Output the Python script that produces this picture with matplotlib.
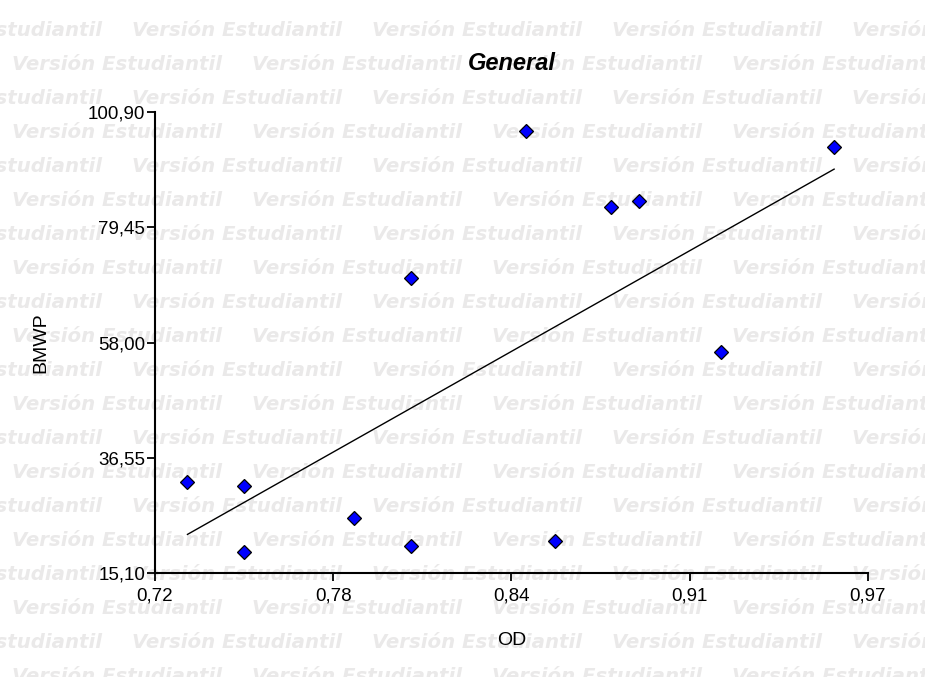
import numpy as np
import matplotlib
matplotlib.use("Agg")
import matplotlib.pyplot as plt

# datos (OD vs BMWP)
od = [0.729, 0.749, 0.749, 0.788, 0.808, 0.808, 0.849, 0.859, 0.879, 0.889, 0.918, 0.958]
bmwp = [32.0, 31.3, 19.0, 25.3, 20.1, 70.0, 97.4, 21.1, 83.2, 84.4, 56.3, 94.3]

x_min, x_max = 0.7175, 0.97
y_min, y_max = 15.10, 100.90

title = "General"
x_label = "OD"
y_label = "BMWP"
watermark = "Versión Estudiantil"

W, H = 925, 677
fig = plt.figure(figsize=(W / 100, H / 100), dpi=100)
fig.patch.set_facecolor("white")

# marca de agua de fondo
for k in range(21):
    yb = 36 + 34 * k
    x0 = 132 if k % 2 == 0 else 12
    for n in range(-1, 5):
        xs = x0 + 240 * n
        fig.text(xs / W, 1 - yb / H, watermark, fontsize=14.2, color="#eae9e9",
                 family="DejaVu Sans", weight="bold", style="italic",
                 ha="left", va="baseline", zorder=-5)

ax = fig.add_axes([155 / W, 1 - 573.3 / H, (868 - 155) / W, (573.3 - 112) / H])
ax.patch.set_alpha(0)

# recta de regresion
b1, b0 = np.polyfit(od, bmwp, 1)
xl = np.array([min(od), max(od)])
ax.plot(xl, b0 + b1 * xl, color="black", lw=1.0, zorder=2)

ax.plot(od, bmwp, linestyle="none", marker="D", markersize=7,
        markerfacecolor="#0000ff", markeredgecolor="black", markeredgewidth=0.9, zorder=3)

ax.set_xlim(x_min, x_max)
ax.set_ylim(y_min, y_max)
xt = np.linspace(x_min, x_max, 5)
yt = np.linspace(y_min, y_max, 5)
ax.set_xticks(xt)
ax.set_yticks(yt)
ax.set_xticklabels([("%.2f" % v).replace(".", ",") for v in xt])
ax.set_yticklabels([("%.2f" % v).replace(".", ",") for v in yt])

for s in ["top", "right"]:
    ax.spines[s].set_visible(False)
for s in ["left", "bottom"]:
    ax.spines[s].set_linewidth(1.5)

ax.tick_params(axis="both", direction="out", length=6, width=1.3, labelsize=13.5)
ax.tick_params(axis="x", pad=4)
ax.tick_params(axis="y", pad=1)
for lab in ax.get_xticklabels() + ax.get_yticklabels():
    lab.set_family("Liberation Sans")

fig.text(511.5 / W, 1 - 70 / H, title, fontsize=17, weight="bold", style="italic",
         family="Liberation Sans", ha="center", va="baseline")
fig.text(511.5 / W, 1 - 645 / H, x_label, fontsize=14, family="Liberation Sans",
         ha="center", va="baseline")
fig.text(41 / W, 1 - 343 / H, y_label, fontsize=14, family="Liberation Sans",
         rotation=90, ha="center", va="center")

fig.savefig("out.png", dpi=100)
